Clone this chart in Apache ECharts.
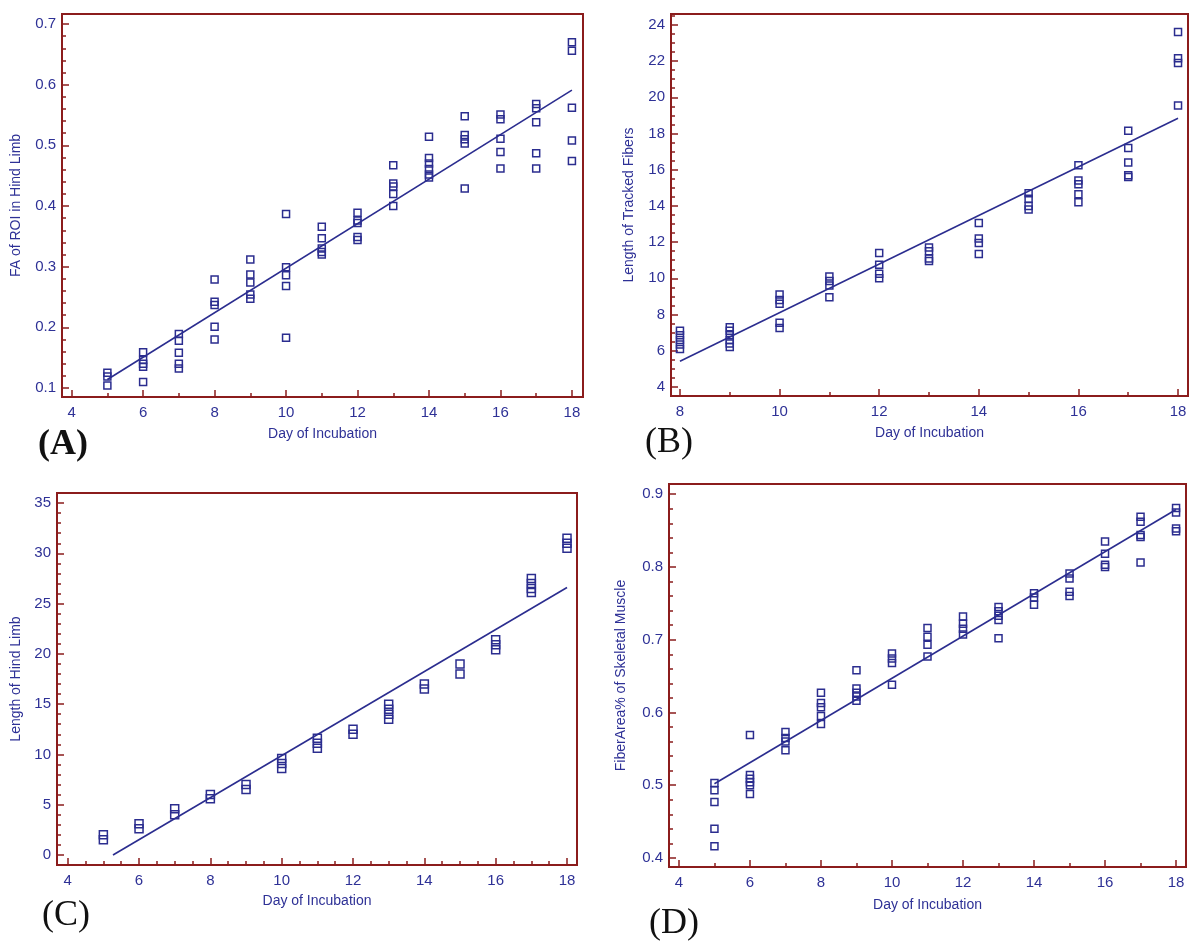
<!DOCTYPE html>
<html><head><meta charset="utf-8">
<script src="https://cdn.jsdelivr.net/npm/echarts@6/dist/echarts.min.js"></script>
<style>html,body{margin:0;padding:0;background:#fff}#c{width:1200px;height:947px}</style>
</head><body><div id="c"></div>
<script>
// ---------- DATA ----------
const daysAll = [5, 6, 7, 8, 9, 10, 11, 12, 13, 14, 15, 16, 17, 18];
const daysLate = [8, 9, 10, 11, 12, 13, 14, 15, 16, 17, 18];

// (A) FA of ROI in Hind Limb, grouped by day (daysAll)
const faValues = [
  [0.125, 0.119, 0.104],
  [0.159, 0.146, 0.140, 0.135, 0.110],
  [0.189, 0.178, 0.158, 0.140, 0.132],
  [0.279, 0.242, 0.237, 0.201, 0.180],
  [0.312, 0.287, 0.274, 0.254, 0.247],
  [0.387, 0.299, 0.286, 0.268, 0.183],
  [0.366, 0.347, 0.330, 0.324, 0.320],
  [0.389, 0.376, 0.372, 0.349, 0.344],
  [0.467, 0.437, 0.432, 0.420, 0.400],
  [0.514, 0.479, 0.470, 0.461, 0.452, 0.447],
  [0.548, 0.517, 0.510, 0.503, 0.429],
  [0.551, 0.543, 0.511, 0.489, 0.462],
  [0.568, 0.561, 0.538, 0.487, 0.462],
  [0.670, 0.656, 0.562, 0.508, 0.474]
];
const faFitX = [5, 18];
const faFitY = [0.114, 0.591];

// (B) Length of Tracked Fibers, grouped by day (daysLate)
const fiberLenValues = [
  [7.1, 6.85, 6.6, 6.35, 6.1],
  [7.3, 7.1, 6.85, 6.6, 6.4, 6.2],
  [9.1, 8.8, 8.6, 7.55, 7.25],
  [10.1, 9.85, 9.6, 8.95],
  [11.4, 10.75, 10.25, 10.0],
  [11.7, 11.5, 11.1, 10.95],
  [13.05, 12.2, 11.95, 11.35],
  [14.7, 14.4, 14.0, 13.8],
  [16.25, 15.4, 15.2, 14.65, 14.2],
  [18.15, 17.2, 16.4, 15.7, 15.6],
  [23.6, 22.15, 21.9, 19.55]
];
const fiberLenFitX = [8, 18];
const fiberLenFitY = [5.42, 18.84];

// (C) Length of Hind Limb, grouped by day (daysAll)
const limbLenValues = [
  [2.0, 1.5],
  [3.1, 2.6],
  [4.6, 4.0],
  [6.0, 5.6],
  [7.0, 6.5],
  [9.6, 9.1, 8.6],
  [11.6, 11.1, 10.6],
  [12.5, 12.0],
  [15.0, 14.5, 14.0, 13.5],
  [17.0, 16.5],
  [19.0, 18.0],
  [21.4, 20.9, 20.4],
  [27.5, 27.0, 26.5, 26.1],
  [31.5, 31.0, 30.5]
];
const limbLenFitX = [5.27, 18];
const limbLenFitY = [0, 26.6];

// (D) FiberArea% of Skeletal Muscle, grouped by day (daysAll)
const fiberAreaValues = [
  [0.503, 0.493, 0.477, 0.440, 0.416],
  [0.569, 0.514, 0.509, 0.504, 0.500, 0.488],
  [0.573, 0.565, 0.560, 0.548],
  [0.627, 0.613, 0.607, 0.595, 0.584],
  [0.658, 0.633, 0.627, 0.622, 0.616],
  [0.681, 0.674, 0.668, 0.638],
  [0.716, 0.704, 0.693, 0.677],
  [0.732, 0.722, 0.715, 0.707],
  [0.745, 0.739, 0.733, 0.727, 0.702],
  [0.764, 0.758, 0.748],
  [0.791, 0.784, 0.766, 0.760],
  [0.835, 0.818, 0.803, 0.800],
  [0.869, 0.862, 0.844, 0.841, 0.806],
  [0.881, 0.875, 0.853, 0.849]
];
const fiberAreaFitX = [5, 18];
const fiberAreaFitY = [0.502, 0.879];

// ---------- TICK LABELS ----------
const xTicksA = [4, 6, 8, 10, 12, 14, 16, 18];
const xTicksB = [8, 10, 12, 14, 16, 18];
const yTicksA = [0.1, 0.2, 0.3, 0.4, 0.5, 0.6, 0.7];
const yTicksB = [4, 6, 8, 10, 12, 14, 16, 18, 20, 22, 24];
const yTicksC = [0, 5, 10, 15, 20, 25, 30, 35];
const yTicksD = [0.4, 0.5, 0.6, 0.7, 0.8, 0.9];

const xTitle = 'Day of Incubation';
const panelLabels = ['(A)', '(B)', '(C)', '(D)'];

// ---------- STYLE / LAYOUT ----------
const FRAME = '#8b1c1c';
const MARK = '#2b2d8f';
const LABEL = '#2e3196';
const FONT = '"Liberation Sans", Arial, sans-serif';

function minors(majors, step, min, max) {
  const out = [];
  const k0 = Math.ceil(min / step), k1 = Math.floor(max / step);
  for (let k = k0; k <= k1; k++) {
    const v = Math.round(k * step * 10000) / 10000;
    if (v <= min + 1e-9 || v >= max - 1e-9) continue;
    if (majors.some(m => Math.abs(m - v) < 1e-6)) continue;
    out.push(v);
  }
  return out;
}
function pairs(days, groups) {
  const out = [];
  days.forEach((d, i) => groups[i].forEach(v => out.push([d, v])));
  return out;
}

const panels = [
  { grid: { left: 62, top: 14, width: 521, height: 383 },
    x: { min: 3.73, max: 18.31, ticks: xTicksA, step: 1 },
    y: { min: 0.0852, max: 0.7165, ticks: yTicksA, step: 0.02 },
    yName: 'FA of ROI in Hind Limb', yGap: 39, xGap: 30,
    data: pairs(daysAll, faValues), fitX: faFitX, fitY: faFitY, size: 7,
    label: { left: 38, top: 427, bold: true } },
  { grid: { left: 671, top: 14, width: 517, height: 382 },
    x: { min: 7.82, max: 18.2, ticks: xTicksB, step: 1 },
    y: { min: 3.5, max: 24.6, ticks: yTicksB, step: 0.5 },
    yName: 'Length of Tracked Fibers', yGap: 35, xGap: 30,
    data: pairs(daysLate, fiberLenValues), fitX: fiberLenFitX, fitY: fiberLenFitY, size: 7,
    label: { left: 645, top: 425, bold: false } },
  { grid: { left: 57, top: 493, width: 520, height: 372 },
    x: { min: 3.7, max: 18.28, ticks: xTicksA, step: 0.5 },
    y: { min: -1.0, max: 36.0, ticks: yTicksC, step: 1 },
    yName: 'Length of Hind Limb', yGap: 34, xGap: 29,
    data: pairs(daysAll, limbLenValues), fitX: limbLenFitX, fitY: limbLenFitY, size: 8,
    label: { left: 42, top: 898, bold: false } },
  { grid: { left: 669, top: 484, width: 517, height: 383 },
    x: { min: 3.72, max: 18.28, ticks: xTicksA, step: 1 },
    y: { min: 0.3876, max: 0.914, ticks: yTicksD, step: 0.02 },
    yName: 'FiberArea% of Skeletal Muscle', yGap: 41, xGap: 31,
    data: pairs(daysAll, fiberAreaValues), fitX: fiberAreaFitX, fitY: fiberAreaFitY, size: 7,
    label: { left: 649, top: 906, bold: false } }
];

const grids = [], xAxes = [], yAxes = [], series = [], graphics = [];
panels.forEach((p, i) => {
  grids.push(Object.assign({ show: true, borderColor: FRAME, borderWidth: 2, backgroundColor: '#fff' }, p.grid));
  const tickStyle = { color: FRAME, width: 1.5 };
  const labelStyle = { color: LABEL, fontSize: 15, fontFamily: FONT };
  const nameStyle = { color: LABEL, fontSize: 14, fontFamily: FONT };
  // major x
  xAxes.push({ gridIndex: i, type: 'value', position: 'bottom', min: p.x.min, max: p.x.max,
    axisLine: { show: false, onZero: false }, splitLine: { show: false },
    axisTick: { show: true, inside: true, length: 7, customValues: p.x.ticks, lineStyle: tickStyle },
    axisLabel: { customValues: p.x.ticks, margin: 8, ...labelStyle },
    name: xTitle, nameLocation: 'middle', nameGap: p.xGap, nameTextStyle: nameStyle });
  // minor x
  xAxes.push({ gridIndex: i, type: 'value', position: 'bottom', min: p.x.min, max: p.x.max,
    axisLine: { show: false, onZero: false }, splitLine: { show: false }, axisLabel: { show: false },
    axisTick: { show: true, inside: true, length: 4, customValues: minors(p.x.ticks, p.x.step, p.x.min, p.x.max), lineStyle: tickStyle } });
  // major y
  yAxes.push({ gridIndex: i, type: 'value', position: 'left', min: p.y.min, max: p.y.max,
    axisLine: { show: false, onZero: false }, splitLine: { show: false },
    axisTick: { show: true, inside: true, length: 7, customValues: p.y.ticks, lineStyle: tickStyle },
    axisLabel: { customValues: p.y.ticks, margin: 6, ...labelStyle },
    name: p.yName, nameLocation: 'middle', nameGap: p.yGap, nameRotate: 90, nameTextStyle: nameStyle });
  // minor y
  yAxes.push({ gridIndex: i, type: 'value', position: 'left', min: p.y.min, max: p.y.max,
    axisLine: { show: false, onZero: false }, splitLine: { show: false }, axisLabel: { show: false },
    axisTick: { show: true, inside: true, length: 4, customValues: minors(p.y.ticks, p.y.step, p.y.min, p.y.max), lineStyle: tickStyle } });

  series.push({ type: 'line', xAxisIndex: 2 * i, yAxisIndex: 2 * i, silent: true, symbol: 'none',
    lineStyle: { color: MARK, width: 1.6 }, data: p.fitX.map((x, k) => [x, p.fitY[k]]), z: 2 });
  series.push({ type: 'scatter', xAxisIndex: 2 * i, yAxisIndex: 2 * i, symbol: 'rect', symbolSize: p.size,
    itemStyle: { color: 'rgba(0,0,0,0)', borderColor: MARK, borderWidth: 1.5, opacity: 1 },
    data: p.data, z: 3 });

  graphics.push({ type: 'text', left: p.label.left, top: p.label.top,
    style: { text: panelLabels[i], fill: '#111',
      font: (p.label.bold ? 'bold ' : '') + '36px "Liberation Serif", "Times New Roman", serif' } });
});

const chart = echarts.init(document.getElementById('c'), null, { renderer: 'canvas' });
chart.setOption({
  animation: false,
  backgroundColor: '#fff',
  grid: grids, xAxis: xAxes, yAxis: yAxes, series: series, graphic: graphics
});
</script>
</body></html>
